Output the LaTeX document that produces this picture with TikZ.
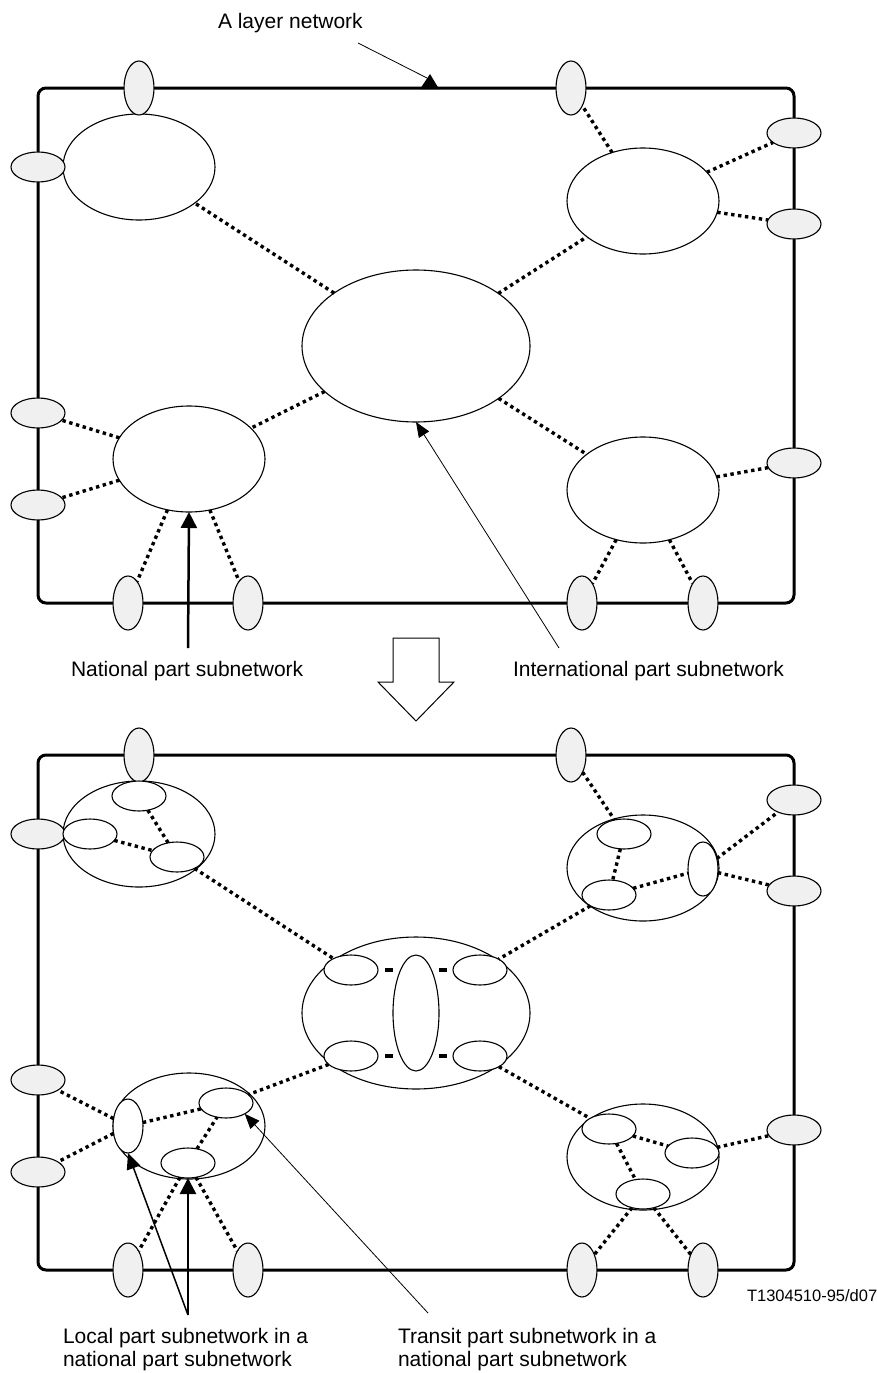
\documentclass[tikz,border=0pt]{standalone}
\usepackage{fontspec}
\setmainfont{Liberation Sans}
\usetikzlibrary{shapes.geometric,arrows.meta}
\definecolor{portgray}{RGB}{240,240,240}
\begin{document}
\begin{tikzpicture}[x=1pt,y=-1pt,
  every node/.style={inner sep=0pt, outer sep=0pt},
  ell/.style={ellipse, draw, line width=1.1pt},
  big/.style={ell, fill=white, minimum width=152pt, minimum height=106pt},
  core/.style={ell, fill=white, minimum width=228pt, minimum height=152pt},
  portH/.style={ell, fill=portgray, minimum width=54pt, minimum height=30pt},
  portV/.style={ell, fill=portgray, minimum width=30pt, minimum height=54pt},
  subH/.style={ell, fill=white, minimum width=54pt, minimum height=30pt},
  subV/.style={ell, fill=white, minimum width=30pt, minimum height=54pt},
  midV/.style={ell, fill=white, minimum width=46pt, minimum height=116pt},
  link/.style={line width=3.4pt, dash pattern=on 3.4pt off 3.6pt},
  dashbit/.style={line width=4pt},
  frame/.style={line width=3pt, rounded corners=8pt},
  lbl/.style={anchor=base west, font=\fontsize{21}{24}\selectfont},
  codelbl/.style={anchor=base west, font=\fontsize{16.5}{19}\selectfont},
  thickarrow/.style={line width=2.5pt, -{Triangle[length=16pt,width=16pt]}},
  midarrow/.style={line width=1.5pt, -{Triangle[length=16pt,width=14pt]}},
  thinarrow/.style={line width=0.8pt, -{Triangle[length=15pt,width=12pt]}}
]
\useasboundingbox (0,0) rectangle (877,1373);
\fill[white] (0,0) rectangle (877,1373);

% ===== top panel =====
\draw[frame] (38,88) rectangle (794,603);
\coordinate (layerTip) at (430,74);
\fill (420,89) -- (layerTip) -- (439,89) -- cycle;
\node[lbl] (tLayer) at (218,28) {A layer network};
\coordinate (layerStart) at (358,43);
\draw[line width=0.8pt] (layerStart) -- (427,78);

\node[big] (nTL) at (139,167) {};
\node[big] (nTR) at (643,201) {};
\node[core] (nC) at (416,346) {};
\node[big] (nBL) at (189,459) {};
\node[big] (nBR) at (643,490) {};

\node[portV] (pT1) at (139,88) {};
\node[portV] (pT2) at (571,88) {};
\node[portH] (pL1) at (38,167) {};
\node[portH] (pR1) at (794,133) {};
\node[portH] (pR2) at (794,224) {};
\node[portH] (pL2) at (38,413) {};
\node[portH] (pL3) at (38,505) {};
\node[portH] (pR3) at (794,463) {};
\node[portV] (pB1) at (128,603) {};
\node[portV] (pB2) at (248,603) {};
\node[portV] (pB3) at (582,603) {};
\node[portV] (pB4) at (703,603) {};

\draw[link] (nC) -- (nTL);
\draw[link] (nC) -- (nTR);
\draw[link] (nC) -- (nBL);
\draw[link] (nC) -- (nBR);
\draw[link] (nTR) -- (pT2);
\draw[link] (nTR) -- (pR1);
\draw[link] (nTR) -- (pR2);
\draw[link] (nBL) -- (pL2);
\draw[link] (nBL) -- (pL3);
\draw[link] (nBL) -- (pB1);
\draw[link] (nBL) -- (pB2);
\draw[link] (nBR) -- (pR3);
\draw[link] (nBR) -- (pB3);
\draw[link] (nBR) -- (pB4);

\node[lbl] (tNat) at (71,676) {National part subnetwork};
\node[lbl] (tInt) at (513,676) {International part subnetwork};
\coordinate (natStart) at (188,648);
\coordinate (intStart) at (559,648);
\draw[thickarrow] (natStart) -- (nBL.south);
\draw[thinarrow] (intStart) -- (nC.south);

% ===== block arrow =====
\draw[line width=1pt, fill=white] (393,638) -- (439,638) -- (439,682) -- (454,682) -- (416,721) -- (378,682) -- (393,682) -- cycle;

% ===== bottom panel =====
\draw[frame] (38,755) rectangle (794,1270);

\node[big] (mTL) at (139,834) {};
\node[big] (mTR) at (643,868) {};
\node[core] (mC) at (416,1013) {};
\node[big] (mBL) at (189,1126) {};
\node[big] (mBR) at (643,1157) {};

\node[portV] (qT1) at (139,755) {};
\node[portV] (qT2) at (571,755) {};
\node[portH] (qL1) at (38,834) {};
\node[portH] (qR1) at (794,800) {};
\node[portH] (qR2) at (794,891) {};
\node[portH] (qL2) at (38,1080) {};
\node[portH] (qL3) at (38,1172) {};
\node[portH] (qR3) at (794,1130) {};
\node[portV] (qB1) at (128,1270) {};
\node[portV] (qB2) at (248,1270) {};
\node[portV] (qB3) at (582,1270) {};
\node[portV] (qB4) at (703,1270) {};

% inner subnetworks
\node[subH] (a1) at (139,796) {};
\node[subH] (a2) at (90,834) {};
\node[subH] (a3) at (177,857) {};
\node[subH] (b1) at (624,834) {};
\node[subH] (b2) at (609,895) {};
\node[subV] (b3) at (703,869) {};
\node[midV] (cm) at (416,1013) {};
\node[subH] (c1) at (351,970) {};
\node[subH] (c2) at (480,970) {};
\node[subH] (c3) at (351,1056) {};
\node[subH] (c4) at (480,1056) {};
\node[subV] (d1) at (128,1126) {};
\node[subH] (d2) at (226,1103) {};
\node[subH] (d3) at (188,1163) {};
\node[subH] (e1) at (609,1129) {};
\node[subH] (e2) at (692,1153) {};
\node[subH] (e3) at (643,1194) {};

\draw[link] (a1) -- (a3);
\draw[link] (a2) -- (a3);
\draw[link] (a3) -- (c1);
\draw[link] (qT2) -- (b1);
\draw[link] (b1) -- (b2);
\draw[link] (b2) -- (b3);
\draw[link] (b3) -- (qR1);
\draw[link] (b3) -- (qR2);
\draw[link] (b2) -- (c2);
\draw[link] (c3) -- (d2);
\draw[link] (c4) -- (e1);
\draw[link] (d1) -- (d2);
\draw[link] (d3) -- (d2);
\draw[link] (d1) -- (qL2);
\draw[link] (d1) -- (qL3);
\draw[link] (d3) -- (qB1);
\draw[link] (d3) -- (qB2);
\draw[link] (e1) -- (e2);
\draw[link] (e1) -- (e3);
\draw[link] (e2) -- (qR3);
\draw[link] (e3) -- (qB3);
\draw[link] (e3) -- (qB4);

\draw[dashbit] ([xshift=7pt]c1.east) -- ([xshift=15pt]c1.east);
\draw[dashbit] ([xshift=-14pt]c2.west) -- ([xshift=-6pt]c2.west);
\draw[dashbit] ([xshift=7pt]c3.east) -- ([xshift=15pt]c3.east);
\draw[dashbit] ([xshift=-14pt]c4.west) -- ([xshift=-6pt]c4.west);

% annotations
\coordinate (localStart) at (188,1315);
\coordinate (transStart) at (428,1313);
\draw[thickarrow] (localStart) -- (d3.south);
\draw[midarrow] (localStart) -- (d1.south);
\draw[thinarrow] (transStart) -- (d2.-30);

\node[codelbl] (tCode) at (747,1301) {T1304510-95/d07};
\node[lbl] (tLocalA) at (63,1343) {Local part subnetwork in a};
\node[lbl] (tLocalB) at (63,1366) {national part subnetwork};
\node[lbl] (tTransA) at (398,1343) {Transit part subnetwork in a};
\node[lbl] (tTransB) at (398,1366) {national part subnetwork};
\end{tikzpicture}
\end{document}
